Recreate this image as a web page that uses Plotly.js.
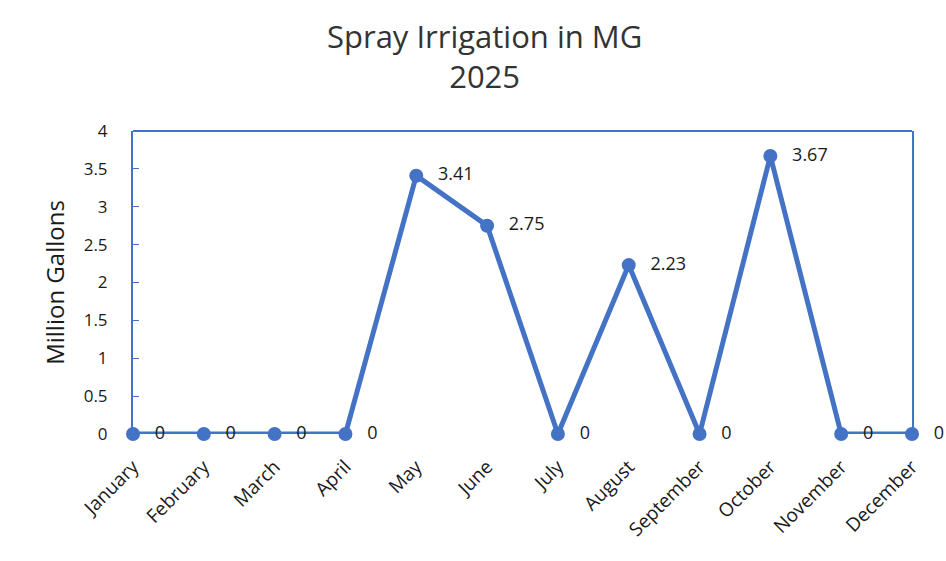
<!DOCTYPE html>
<html><head><meta charset="utf-8">
<script src="https://cdn.plot.ly/plotly-3.0.1.min.js"></script>
<style>html,body{margin:0;padding:0;background:#fff}#chart{width:946px;height:561px}</style>
</head><body><div id="chart"></div>
<script>
const months = ["January","February","March","April","May","June","July","August","September","October","November","December"];
const gallons = [0,0,0,0,3.41,2.75,0,2.23,0,3.67,0,0];
const yTicks = [0,0.5,1,1.5,2,2.5,3,3.5,4];
const titleText = "Spray Irrigation in MG<br>2025";
const yTitle = "Million Gallons";
const blue = "#4472C4";
const font = "'Open Sans', 'Noto Sans', sans-serif";

const trace = {
  x: months.map((m,i)=>i), y: gallons, mode: "lines+markers+text",
  line: {color: blue, width: 5}, marker: {color: blue, size: 14},
  text: gallons.map(v=>"\u2002\u2009" + String(v)), textposition: "middle right",
  textfont: {family: font, size: 18, color: "#1a1a1a"}, cliponaxis: false,
  hoverinfo: "none"
};
const layout = {
  width: 946, height: 561, paper_bgcolor: "#fff", plot_bgcolor: "#fff",
  margin: {l: 133, r: 34, t: 131, b: 127},
  showlegend: false,
  annotations: [{text: titleText, xref: "paper", yref: "paper", x: 0.4506, y: 1.39,
    xanchor: "center", yanchor: "top", showarrow: false, align: "center",
    font: {family: font, size: 31, color: "#333"}}],
  shapes: [{type: "line", xref: "paper", yref: "paper", x0: 0, x1: 1, y0: 1, y1: 1,
    line: {color: blue, width: 2}}],
  xaxis: {range: [0, 11], tickvals: months.map((m,i)=>i), ticktext: months, tickangle: -45,
          showgrid: false, zeroline: false, showline: false,
          ticks: "", ticklabelstandoff: 17, tickfont: {family: font, size: 19, color: "#1a1a1a"}},
  yaxis: {range: [0, 4], tickvals: yTicks, ticktext: yTicks.map(String), showgrid: false, zeroline: false,
          showline: true, mirror: true, linecolor: blue, linewidth: 2, ticks: "inside", ticklen: 6, tickcolor: blue,
          tickfont: {family: font, size: 17, color: "#1a1a1a"}, ticklabelstandoff: 20,
          title: {text: yTitle, font: {family: font, size: 24, color: "#1a1a1a"}, standoff: 12}}
};
Plotly.newPlot("chart", [trace], layout, {displayModeBar: false, staticPlot: true});
</script></body></html>
